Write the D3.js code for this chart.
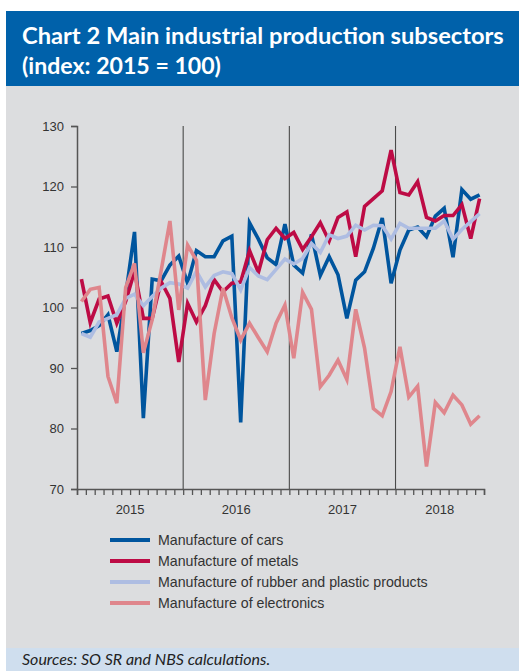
<!DOCTYPE html>
<html>
<head>
<meta charset="utf-8">
<script src="https://cdn.jsdelivr.net/npm/d3@7"></script>
<style>
  html, body { margin: 0; padding: 0; background: #ffffff; }
  svg { display: block; }
</style>
</head>
<body>
<svg id="chart" width="519" height="671"></svg>
<script>
// Monthly indices, Jan 2015 – Oct 2018 (2015 = 100)
const years = ["2015", "2016", "2017", "2018"];
const yTicks = [70, 80, 90, 100, 110, 120, 130];

const cars = [
  95.7, 96.2, 97.0, 98.8, 92.7, 102.0, 112.5, 81.7, 104.7, 104.4, 107.0, 108.5,
  104.0, 109.4, 108.4, 108.4, 111.0, 111.8, 81.0, 114.0, 111.3, 108.2, 107.1, 113.8,
  107.0, 105.7, 112.1, 105.3, 108.4, 105.4, 98.2, 104.5, 105.9, 109.8, 114.8, 104.0,
  109.5, 112.8, 113.3, 111.7, 115.1, 116.4, 108.3, 119.5, 117.9, 118.6
];
const metals = [
  104.7, 97.5, 101.4, 101.9, 97.4, 101.0, 106.0, 98.2, 98.2, 104.3, 101.5, 91.0,
  100.7, 97.6, 100.3, 104.6, 102.6, 104.0, 104.2, 109.4, 105.8, 111.2, 113.1, 111.4,
  112.4, 109.6, 111.7, 114.0, 111.0, 114.9, 115.8, 108.4, 116.7, 118.0, 119.3, 126.0,
  119.0, 118.6, 120.8, 114.9, 114.3, 115.2, 115.2, 117.0, 111.4, 118.0
];
const rubber = [
  95.7, 95.1, 97.6, 98.2, 98.8, 101.5, 102.2, 100.3, 101.8, 103.2, 104.1, 103.9,
  103.2, 106.0, 103.4, 105.3, 105.9, 105.6, 102.9, 106.6, 105.2, 104.6, 106.3, 108.0,
  107.2, 108.1, 110.6, 109.1, 112.0, 111.4, 111.8, 113.6, 112.8, 113.6, 113.5, 111.3,
  113.9, 113.1, 113.1, 113.1, 113.1, 114.3, 111.3, 112.9, 114.2, 115.5
];
const electronics = [
  101.0, 103.0, 103.3, 88.6, 84.2, 103.3, 107.3, 92.5, 98.0, 106.0, 114.3, 99.6,
  110.3, 107.8, 84.7, 95.7, 103.2, 98.3, 94.6, 97.4, 95.0, 92.7, 97.4, 100.4,
  91.6, 102.5, 99.7, 86.9, 88.8, 91.3, 88.1, 99.7, 93.3, 83.3, 82.1, 86.1,
  93.5, 85.2, 87.0, 73.7, 84.3, 82.6, 85.5, 83.9, 80.7, 82.1
];

const seriesNames = [
  "Manufacture of cars",
  "Manufacture of metals",
  "Manufacture of rubber and plastic products",
  "Manufacture of electronics"
];
const seriesColors = ["#00559e", "#bd0b45", "#aebde2", "#df868c"];
const seriesValues = [cars, metals, rubber, electronics];

const svg = d3.select("#chart");
const FONT = "'Liberation Sans', Arial, sans-serif";
const TITLE_FONT = "Lato, 'Open Sans', sans-serif";

// Pick a font size so that a text spans the given width
function fitSize(sel, w, maxSize) {
  sel.style("font-size", maxSize + "px");
  const len = sel.node().getComputedTextLength();
  if (len > w) sel.style("font-size", (maxSize * w / len).toFixed(2) + "px");
}

// Panels: title band, plot background, source band
svg.append("rect").attr("x", 6).attr("y", 11).attr("width", 513).attr("height", 75).attr("fill", "#0061aa");
svg.append("rect").attr("x", 6).attr("y", 86).attr("width", 513).attr("height", 562).attr("fill", "#dcdddf");
svg.append("rect").attr("x", 6).attr("y", 648).attr("width", 513).attr("height", 23).attr("fill", "#cfdeee");

const t1 = svg.append("text").attr("x", 22).attr("y", 43.5)
  .attr("fill", "#ffffff").style("font-family", TITLE_FONT).style("font-weight", 700)
  .text("Chart 2 Main industrial production subsectors");
fitSize(t1, 482, 24.5);
const t2 = svg.append("text").attr("x", 22).attr("y", 73.5)
  .attr("fill", "#ffffff").style("font-family", TITLE_FONT).style("font-weight", 700)
  .text("(index: 2015 = 100)");
fitSize(t2, 199, 24.5);

const src = svg.append("text").attr("x", 22).attr("y", 665)
  .attr("fill", "#222").style("font-family", TITLE_FONT).style("font-style", "italic")
  .text("Sources: SO SR and NBS calculations.");
fitSize(src, 271, 16);

// Scales: x in months since Jan 2015, points at mid-month
const x = d3.scaleLinear().domain([0, 46]).range([77, 484]);
const y = d3.scaleLinear().domain([70, 130]).range([489, 126]);

// Year separators
svg.append("g").selectAll("line").data([12, 24, 36]).join("line")
  .attr("x1", d => x(d)).attr("x2", d => x(d))
  .attr("y1", y(130)).attr("y2", y(70))
  .attr("stroke", "#4a4a4a").attr("stroke-width", 1.1);

// Y axis
const yAxis = svg.append("g").attr("transform", `translate(${x(0)},0)`)
  .call(d3.axisLeft(y).tickValues(yTicks).tickSize(6).tickPadding(7));
yAxis.select(".domain").attr("stroke", "#555").attr("stroke-width", 1.5);
yAxis.selectAll(".tick line").attr("stroke", "#555").attr("stroke-width", 1.3);
yAxis.selectAll("text").attr("fill", "#333").style("font-family", FONT).style("font-size", "13px");

// X axis with a tick at every month boundary
const xAxis = svg.append("g").attr("transform", `translate(0,${y(70)})`)
  .call(d3.axisBottom(x).tickValues(d3.range(0, 47)).tickSize(6).tickFormat(""));
xAxis.select(".domain").attr("stroke", "#555").attr("stroke-width", 1.5);
xAxis.selectAll(".tick line").attr("stroke", "#555").attr("stroke-width", 1.3);

// Year labels centred on each year's span
svg.append("g").selectAll("text").data(years).join("text")
  .attr("x", (d, i) => x((i * 12 + Math.min(i * 12 + 12, 46)) / 2))
  .attr("y", 514)
  .attr("text-anchor", "middle")
  .attr("fill", "#333").style("font-family", FONT).style("font-size", "13px")
  .text(d => d);

// Series lines
const line = d3.line().x((d, i) => x(i + 0.5)).y(d => y(d));
svg.append("g").selectAll("path").data(seriesValues).join("path")
  .attr("d", d => line(d))
  .attr("fill", "none")
  .attr("stroke", (d, i) => seriesColors[i])
  .attr("stroke-width", 3.6)
  .attr("stroke-linejoin", "miter")
  .attr("stroke-miterlimit", 4);

// Legend
const legend = svg.append("g").selectAll("g").data(seriesNames).join("g")
  .attr("transform", (d, i) => `translate(0,${540 + i * 21})`);
legend.append("line").attr("x1", 110).attr("x2", 150).attr("y1", 0).attr("y2", 0)
  .attr("stroke", (d, i) => seriesColors[i]).attr("stroke-width", 4);
legend.append("text").attr("x", 158).attr("y", 5)
  .attr("fill", "#333").style("font-family", FONT).style("font-size", "14.2px")
  .text(d => d);
</script>
</body>
</html>
